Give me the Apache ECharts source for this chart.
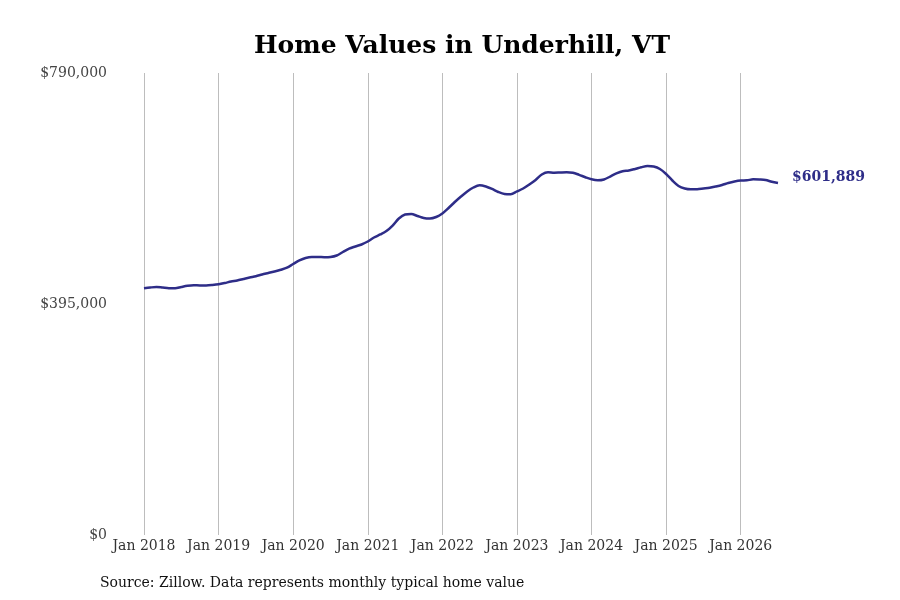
<!DOCTYPE html>
<html>
<head>
<meta charset="utf-8">
<script src="https://cdn.jsdelivr.net/npm/echarts@6/dist/echarts.min.js"></script>
<style>
  html, body { margin: 0; padding: 0; background: #fff; }
  #chart { width: 900px; height: 600px; }
</style>
</head>
<body>
<div id="chart"></div>
<script>
// monthly typical home value, Jan 2018 .. Jul 2026
const startYear = 2018
const monthNames = ['Jan','Feb','Mar','Apr','May','Jun','Jul','Aug','Sep','Oct','Nov','Dec']

const values = [
  421900, 423200, 424100, 423100, 422000, 421900, 424100, 426100, 427000, 426800, 426800, 427500,
  428700, 430900, 433500, 435200, 437800, 440300, 442400, 445500, 448000, 450600, 453500, 457100,
  463400, 469400, 473700, 475400, 475400, 475000, 475400, 477900, 483900, 489600, 493300, 496800,
  501900, 508700, 513900, 519800, 529200, 541200, 548100, 548900, 545500, 542100, 541200, 543800,
  549800, 559200, 569400, 578800, 587400, 594200, 598000, 595900, 591700, 586500, 583100, 582800,
  587400, 592500, 599400, 607000, 616500, 620400, 619500, 619900, 620200, 619500, 615900, 611800,
  608200, 606500, 607900, 613000, 618200, 622100, 623300, 625900, 628800, 631000, 630100, 625900,
  617300, 606200, 596800, 592500, 591100, 591300, 592500, 593700, 595900, 598500, 601900, 604500,
  606200, 606500, 608200, 607900, 607100, 604000, 601889
]

const months = values.map((v, i) => {
  const y = startYear + Math.floor(i / 12)
  return monthNames[i % 12] + ' ' + y
})

const yTicks = [0, 395000, 790000]

const lineColor = '#2e2d88'
const serif = 'DejaVu Serif'

const chart = echarts.init(document.getElementById('chart'))

const isJan = (idx) => idx % 12 === 0

const option = {
  animation: false,
  textStyle: { fontFamily: serif },
  title: [
    {
      text: 'Home Values in Underhill, VT',
      left: 457,
      top: 29,
      textAlign: 'center',
      textStyle: { fontFamily: serif, fontSize: 25, fontWeight: 'bold', color: '#000' }
    },
    {
      text: 'Source: Zillow. Data represents monthly typical home value',
      left: 95,
      top: 571,
      textStyle: { fontFamily: serif, fontSize: 14, fontWeight: 'normal', color: '#111' }
    }
  ],
  grid: { left: 144, right: 122, top: 73, bottom: 65 },
  xAxis: {
    type: 'category',
    data: months,
    boundaryGap: false,
    axisLine: { show: false },
    axisTick: { show: false },
    axisLabel: {
      interval: isJan,
      margin: 4,
      fontFamily: serif,
      fontSize: 14,
      color: '#333'
    },
    splitLine: {
      show: true,
      interval: isJan,
      lineStyle: { color: '#bdbdbd', width: 1 }
    }
  },
  yAxis: {
    type: 'value',
    min: yTicks[0],
    max: yTicks[2],
    interval: yTicks[1],
    axisLine: { show: false },
    axisTick: { show: false },
    splitLine: { show: false },
    axisLabel: {
      margin: 37,
      fontFamily: serif,
      fontSize: 14,
      color: '#444',
      formatter: (v) => '$' + v.toLocaleString('en-US')
    }
  },
  series: [{
    type: 'line',
    data: values,
    smooth: 0.3,
    symbol: 'none',
    lineStyle: { color: lineColor, width: 2.5 },
    endLabel: {
      show: true,
      distance: 14,
      offset: [0, -6],
      fontFamily: serif,
      fontSize: 14,
      fontWeight: 'bold',
      color: lineColor,
      formatter: (p) => '$' + p.value.toLocaleString('en-US')
    }
  }]
}

chart.setOption(option)
</script>
</body>
</html>
